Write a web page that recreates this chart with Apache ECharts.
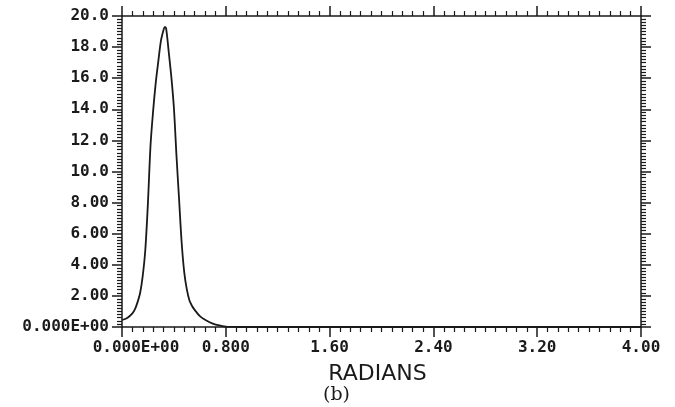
<!DOCTYPE html>
<html>
<head>
<meta charset="utf-8">
<script src="https://cdn.jsdelivr.net/npm/echarts@6/dist/echarts.min.js"></script>
<style>
html,body{margin:0;padding:0;background:#fff;}
#chart{width:675px;height:407px;}
</style>
</head>
<body>
<div id="chart"></div>
<script>
// Data
var radians = [0.00,0.04,0.08,0.10,0.12,0.14,0.16,0.18,0.20,0.22,0.24,0.26,0.28,0.30,0.32,0.33,0.34,0.36,0.38,0.40,0.42,0.44,0.46,0.48,0.50,0.52,0.54,0.56,0.60,0.65,0.70,0.75,0.80,0.85,0.90,1.00,1.50,2.00,2.50,3.00,3.50,4.00];
var values  = [0.45,0.58,0.88,1.15,1.60,2.20,3.30,5.00,8.00,11.7,13.9,15.7,17.1,18.4,19.1,19.3,19.2,17.7,16.1,14.1,11.0,8.20,5.40,3.50,2.40,1.70,1.35,1.10,0.70,0.42,0.22,0.10,0.03,0.01,0.00,0.00,0.00,0.00,0.00,0.00,0.00,0.00];
var xTickLabels = {0:'0.000E+00',0.8:'0.800',1.6:'1.60',2.4:'2.40',3.2:'3.20',4:'4.00'};
var yTickLabels = {0:'0.000E+00',2:'2.00',4:'4.00',6:'6.00',8:'8.00',10:'10.0',12:'12.0',14:'14.0',16:'16.0',18:'18.0',20:'20.0'};
var xTitle = 'RADIANS';
var subTitle = '(b)';

var ink = '#1a1a1a';
var labelFont = {fontFamily:'DejaVu Sans Mono', fontWeight:'bold', fontSize:16, color:ink};
function fmtX(v){ var k = Math.round(v*10)/10; return xTickLabels[k] !== undefined ? (k===0 ? '{z|'+xTickLabels[k]+'}' : xTickLabels[k]) : ''; }
function fmtY(v){ var k = Math.round(v); return yTickLabels[k] !== undefined ? yTickLabels[k] : ''; }

var axisCommon = {
  type:'value', splitLine:{show:false},
  axisLine:{show:true, onZero:false, lineStyle:{color:ink, width:1.5}},
  axisTick:{show:true, inside:false, length:10, lineStyle:{color:ink, width:1.5}},
  minorTick:{show:true, splitNumber:10, length:5, lineStyle:{color:ink, width:1.2}}
};
function mk(extra){ return Object.assign({}, JSON.parse(JSON.stringify(axisCommon)), extra); }

var chart = echarts.init(document.getElementById('chart'), null, {renderer:'canvas'});
chart.setOption({
  animation:false,
  backgroundColor:'#fff',
  grid:{left:122, right:34, top:16, bottom:80},
  xAxis:[
    mk({position:'bottom', min:0, max:4, interval:0.8,
      name:xTitle, nameLocation:'middle', nameGap:36,
      nameTextStyle:{fontFamily:'DejaVu Sans', fontSize:22, color:ink, padding:[0,8,0,0]},
      axisLabel:Object.assign({margin:13, formatter:fmtX, showMinLabel:true, showMaxLabel:true,
        rich:{z:Object.assign({padding:[0,0,0,28]}, labelFont)}}, labelFont)}),
    mk({position:'top', min:0, max:4, interval:0.8, axisLabel:{show:false}})
  ],
  yAxis:[
    mk({position:'left', min:0, max:20, interval:2,
      axisLabel:Object.assign({margin:13, formatter:fmtY, showMinLabel:true, showMaxLabel:true}, labelFont)}),
    mk({position:'right', min:0, max:20, interval:2, axisLabel:{show:false}})
  ],
  graphic:[{
    type:'text', left:323, top:386,
    style:{text:subTitle, font:'19px "DejaVu Serif"', fill:ink}
  }],
  series:[{
    type:'line', xAxisIndex:0, yAxisIndex:0,
    data: radians.map(function(x,i){ return [x, values[i]]; }),
    smooth:0.3, showSymbol:false,
    lineStyle:{color:ink, width:1.8}
  }]
});
</script>
</body>
</html>
